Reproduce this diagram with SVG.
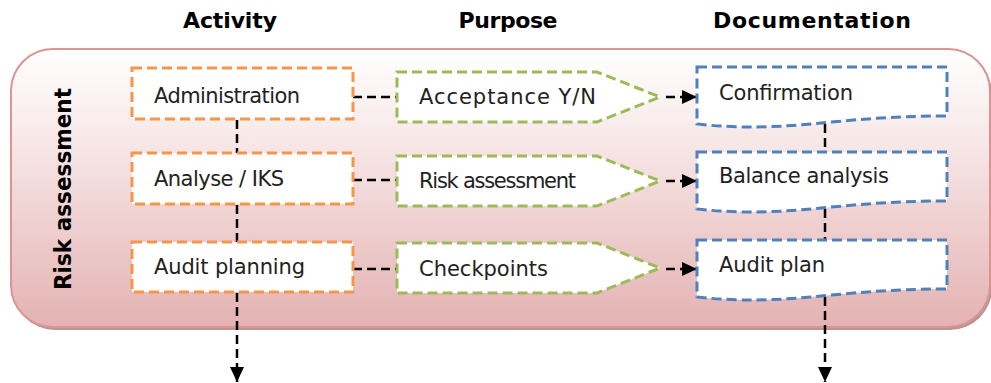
<svg xmlns="http://www.w3.org/2000/svg" width="991" height="383" viewBox="0 0 991 383">
<defs>
<linearGradient id="bg" x1="0" y1="0" x2="0" y2="1">
<stop offset="0" stop-color="#ffffff"/>
<stop offset="0.35" stop-color="#f7e6e6"/>
<stop offset="1" stop-color="#e4b2b2"/>
</linearGradient>
<marker id="ah" viewBox="0 0 15 14" refX="15" refY="7" markerWidth="15" markerHeight="14" markerUnits="userSpaceOnUse" orient="auto">
<path d="M0,0 L15,7 L0,14 Z" fill="#000"/>
</marker>
</defs>
<style>
.hdr{font-family:"DejaVu Sans",sans-serif;font-weight:bold;font-size:22px;fill:#000;}
.lbl{font-family:"DejaVu Sans",sans-serif;font-size:21px;fill:#222;}
.act{fill:#fff;stroke:#f79646;stroke-width:3;stroke-dasharray:10 5;}
.pur{fill:#fff;stroke:#9bbb59;stroke-width:3;stroke-dasharray:10 5;}
.doc{fill:#fff;stroke:#4f81bd;stroke-width:3;stroke-dasharray:10 5;}
.con{fill:none;stroke:#000;stroke-width:2.5;stroke-dasharray:9 5;}
</style>
<g id="headers">
<text class="hdr" x="230" y="28" text-anchor="middle" textLength="94">Activity</text>
<text class="hdr" x="508" y="28" text-anchor="middle" textLength="99">Purpose</text>
<text class="hdr" x="812" y="28" text-anchor="middle" textLength="198">Documentation</text>
</g>
<g id="container">
<rect x="13" y="52" width="979" height="278" rx="42" fill="#b89494"/>
<rect x="11" y="49" width="979" height="278" rx="42" fill="url(#bg)" stroke="#d99594" stroke-width="2"/>
<text transform="translate(71,189) rotate(-90)" text-anchor="middle" style="font-family:'DejaVu Sans',sans-serif;font-weight:bold;font-size:23px;fill:#000;" textLength="202" lengthAdjust="spacingAndGlyphs">Risk assessment</text>
</g>
<g id="connectors">
<line class="con" x1="353" y1="97" x2="397" y2="97"/>
<line class="con" x1="353" y1="180" x2="397" y2="180"/>
<line class="con" x1="353" y1="269" x2="397" y2="269"/>
<line class="con" x1="666" y1="97" x2="697" y2="97" marker-end="url(#ah)"/>
<line class="con" x1="666" y1="181" x2="697" y2="181" marker-end="url(#ah)"/>
<line class="con" x1="666" y1="269" x2="697" y2="269" marker-end="url(#ah)"/>
<line class="con" x1="237" y1="120" x2="237" y2="153"/>
<line class="con" x1="237" y1="205" x2="237" y2="242"/>
<line class="con" x1="237" y1="293" x2="237" y2="382" marker-end="url(#ah)"/>
<line class="con" x1="825" y1="124" x2="825" y2="152"/>
<line class="con" x1="825" y1="209" x2="825" y2="240"/>
<line class="con" x1="825" y1="297" x2="825" y2="382" marker-end="url(#ah)"/>
</g>
<g id="act1"><rect class="act" x="132" y="68" width="221" height="51"/><text class="lbl" x="154" y="103" textLength="146">Administration</text></g>
<g id="act2"><rect class="act" x="132" y="153" width="221" height="51"/><text class="lbl" x="154" y="186" textLength="130">Analyse / IKS</text></g>
<g id="act3"><rect class="act" x="132" y="242" width="221" height="50"/><text class="lbl" x="154" y="274" textLength="151">Audit planning</text></g>
<g id="pur1"><path class="pur" d="M397,72 H597 L660,97 L597,122 H397 Z"/><text class="lbl" x="419" y="104" textLength="177">Acceptance Y/N</text></g>
<g id="pur2"><path class="pur" d="M397,156 H597 L660,181 L597,206 H397 Z"/><text class="lbl" x="419" y="188" textLength="157">Risk assessment</text></g>
<g id="pur3"><path class="pur" d="M397,243 H597 L660,268 L597,293 H397 Z"/><text class="lbl" x="419" y="276" textLength="129">Checkpoints</text></g>
<g id="doc1"><path class="doc" d="M697,67 H947 V116 C830,116 790,134 697,124 Z"/><text class="lbl" x="719" y="100" textLength="134">Confirmation</text></g>
<g id="doc2"><path class="doc" d="M697,152 H947 V201 C830,201 790,219 697,209 Z"/><text class="lbl" x="719" y="183" textLength="170">Balance analysis</text></g>
<g id="doc3"><path class="doc" d="M697,240 H947 V289 C830,289 790,307 697,297 Z"/><text class="lbl" x="719" y="272" textLength="106">Audit plan</text></g>
</svg>
